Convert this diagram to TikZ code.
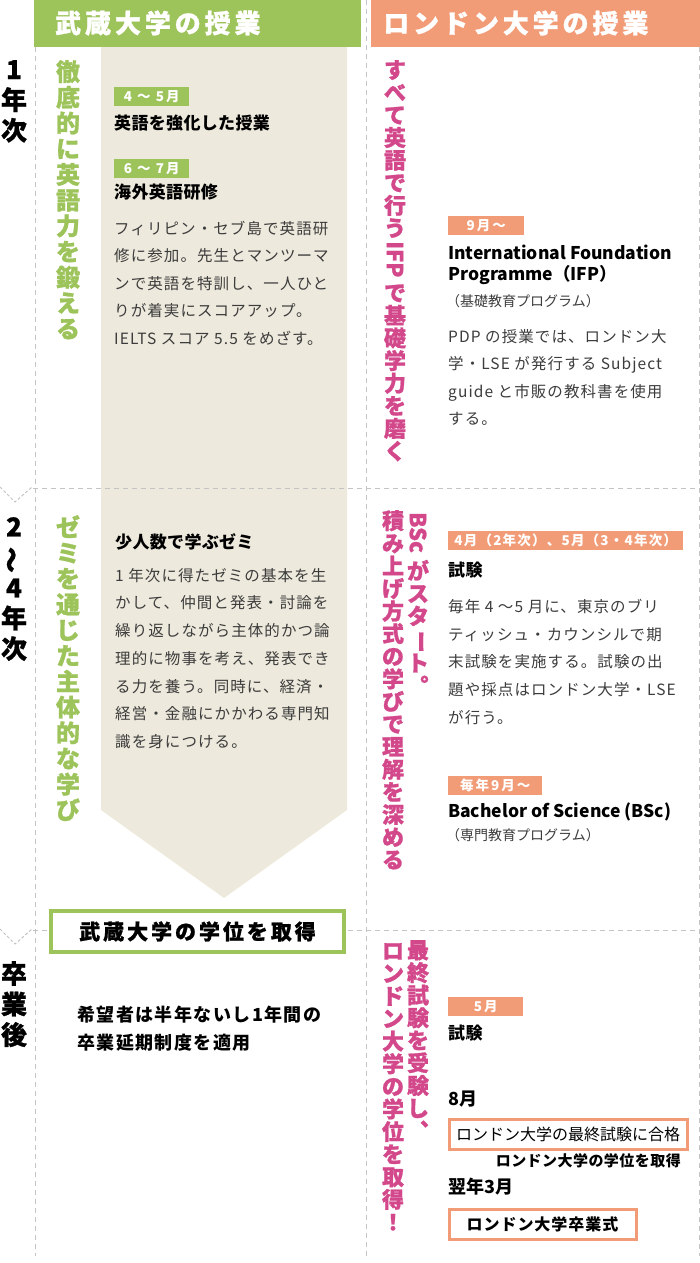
\documentclass[tikz,border=0pt]{standalone}
\usepackage{fontspec}
\setmainfont{Noto Sans CJK JP}
\usepackage{graphicx}
\definecolor{musashigreen}{HTML}{9DC35B}
\definecolor{londonsalmon}{HTML}{F29C77}
\definecolor{londonpink}{HTML}{D2488A}
\definecolor{zemibeige}{HTML}{EDE9DC}
\definecolor{dashgray}{HTML}{C4C4C4}
\definecolor{bodygray}{HTML}{3C3C3C}
\newcommand{\fsz}[2]{\fontsize{#1}{#2}\selectfont}

\begin{document}
\begin{tikzpicture}[x=1pt,y=-1pt]
    \tikzstyle{sectionhead}=[anchor=west,inner sep=0,text=white,font=\bfseries\fsz{26}{26}\addfontfeature{LetterSpace=15,FakeBold=1}]
    \tikzstyle{yearlabel}=[anchor=north,align=center,inner sep=0,font=\bfseries\fsz{26}{30.5}\addfontfeature{FakeBold=1}]
    \tikzstyle{vgreen}=[anchor=north,align=center,inner sep=0,text=musashigreen,font=\bfseries\fsz{24}{25.7}\addfontfeature{FakeBold=1}]
    \tikzstyle{vpink}=[anchor=north,align=center,inner sep=0,text=londonpink,font=\bfseries\fsz{22}{22.6}\addfontfeature{FakeBold=1}]
    \tikzstyle{monthtag}=[anchor=north west,inner sep=0,minimum height=19,text=white,font=\bfseries\fsz{13.5}{13.5}\addfontfeature{LetterSpace=15}]
    \tikzstyle{itemtitle}=[anchor=west,inner sep=0,font=\bfseries\fsz{17}{17}\addfontfeature{LetterSpace=2}]
    \tikzstyle{itemsub}=[anchor=west,inner sep=0,text=bodygray,font=\fsz{14}{14}]
    \tikzstyle{itembody}=[anchor=north west,inner sep=0,align=left,text=bodygray,font=\fsz{15.5}{27.5}\addfontfeature{LetterSpace=7}]
    \tikzstyle{gridline}=[draw=dashgray,line width=1pt,dash pattern=on 5pt off 4pt]
    \tikzstyle{resultbox}=[anchor=north west,draw=londonsalmon,line width=3pt,inner sep=0,minimum height=30]

    \useasboundingbox (0,0) rectangle (700,1263);

    \fill[zemibeige] (101,46.7) -- (347,46.7) -- (347,810) -- (224,898) -- (101,810) -- cycle;
    \fill[musashigreen] (34,0) rectangle (361,46.7);
    \fill[londonsalmon] (371,0) rectangle (700,46.7);
    \node[sectionhead] (musashihead) at (55,23) {武蔵大学の授業};
    \node[sectionhead] (londonhead) at (383,23) {ロンドン大学の授業};

    \draw[gridline] (35,47) -- (35,1256);
    \draw[gridline] (366,0) -- (366,1256);
    \draw[gridline] (699,47) -- (699,1256);
    \draw[gridline] (33,488) -- (700,488);
    \draw[gridline] (33,930) -- (700,930);
    \draw[gridline,dash pattern=on 3pt off 2pt] (0,487) -- (15,502) -- (32,487);
    \draw[gridline,dash pattern=on 3pt off 2pt] (0,929) -- (15,944) -- (32,929);

    \node[yearlabel] (year1) at (14,60) {1\\年\\次};
    \node[yearlabel] (year24) at (14,517) {2\\\rotatebox[origin=c]{90}{〜}\\4\\年\\次};
    \node[yearlabel] (afterdeg) at (14,961) {卒\\業\\後};

    \begin{scope}
    \node[vgreen] (drillenglish) at (68,60) {徹\\底\\的\\に\\英\\語\\力\\を\\鍛\\え\\る};
    \node[vgreen] (zemilearning) at (68,515) {ゼ\\ミ\\を\\通\\じ\\た\\主\\体\\的\\な\\学\\び};

    \node[monthtag,fill=musashigreen,minimum width=75] (aprmay) at (114,87) {4 〜 5月};
    \node[itemtitle] (englishclass) at (114,123) {英語を強化した授業};
    \node[monthtag,fill=musashigreen,minimum width=75] (junjul) at (114,159) {6 〜 7月};
    \node[itemtitle] (abroad) at (114,192) {海外英語研修};
    \node[itembody] (abroadtext) at (114,221) {フィリピン・セブ島で英語研\\修に参加。先生とマンツーマ\\ンで英語を特訓し、一人ひと\\りが着実にスコアアップ。\\IELTS スコア 5.5 をめざす。};

    \node[itemtitle] (zemi) at (115,542) {少人数で学ぶゼミ};
    \node[itembody,font=\fsz{15.5}{27.7}\addfontfeature{LetterSpace=7}] (zemitext) at (115,568) {1 年次に得たゼミの基本を生\\かして、仲間と発表・討論を\\繰り返しながら主体的かつ論\\理的に物事を考え、発表でき\\る力を養う。同時に、経済・\\経営・金融にかかわる専門知\\識を身につける。};

    \node[anchor=north west,draw=musashigreen,line width=4pt,fill=white,minimum width=293,minimum height=41,inner sep=0,font=\bfseries\fsz{21}{21}\addfontfeature{LetterSpace=14,FakeBold=1}] (musashidegree) at (49,909) {武蔵大学の学位を取得};
    \node[itembody,text=black,font=\bfseries\fsz{18}{28}\addfontfeature{LetterSpace=8}] (extension) at (77,1006) {希望者は半年ないし1年間の\\卒業延期制度を適用};
    \end{scope}

    \begin{scope}
    \node[vpink] (allenglish) at (395,60) {す\\べ\\て\\英\\語\\で\\行\\う\\\raisebox{0.8em}{\rotatebox{-90}{IFP}}\\[6pt]で\\基\\礎\\学\\力\\を\\磨\\く};
    \node[vpink] (bscstart) at (418,512) {\raisebox{0.8em}{\rotatebox{-90}{BSc}}\\[6pt]が\\ス\\タ\\\rotatebox[origin=c]{-90}{ー}\\ト\\︒};
    \node[vpink] (deepen) at (393,510) {積\\み\\上\\げ\\方\\式\\の\\学\\び\\で\\理\\解\\を\\深\\め\\る};
    \node[vpink] (finalexam) at (418,940) {最\\終\\試\\験\\を\\受\\験\\し\\︑};
    \node[vpink] (londondegree) at (393,943) {ロ\\ン\\ド\\ン\\大\\学\\の\\学\\位\\を\\取\\得\\！};

    \node[monthtag,fill=londonsalmon,minimum width=76] (sept) at (448,216) {9月〜};
    \node[itemtitle,font=\bfseries\fsz{17.5}{17.5}] (ifp) at (448,252) {International Foundation};
    \node[itemtitle,font=\bfseries\fsz{17.5}{17.5}] (ifpabbr) at (448,275) {Programme（IFP）};
    \node[itemsub] (ifpjp) at (446,301) {（基礎教育プログラム）};
    \node[itembody] (pdptext) at (448,329) {PDP の授業では、ロンドン大\\学・LSE が発行する Subject\\guide と市販の教科書を使用\\する。};

    \node[monthtag,fill=londonsalmon,minimum width=235,font=\bfseries\fsz{13.5}{13.5}\addfontfeature{LetterSpace=9}] (exammonths) at (448,531) {4月（2年次）、5月（3・4年次）};
    \node[itemtitle] (exam) at (448,570) {試験};
    \node[itembody,font=\fsz{15.5}{27.75}\addfontfeature{LetterSpace=7}] (examtext) at (448,599) {毎年 4 ～5 月に、東京のブリ\\ティッシュ・カウンシルで期\\末試験を実施する。試験の出\\題や採点はロンドン大学・LSE\\が行う。};
    \node[monthtag,fill=londonsalmon,minimum width=94] (everysept) at (448,776) {毎年9月〜};
    \node[itemtitle,font=\bfseries\fsz{17.5}{17.5}] (bsc) at (448,812) {Bachelor of Science (BSc)};
    \node[itemsub] (bscjp) at (446,835) {（専門教育プログラム）};

    \node[monthtag,fill=londonsalmon,minimum width=75] (may) at (448,997) {5月};
    \node[itemtitle] (finaltest) at (448,1033) {試験};
    \node[itemtitle,font=\bfseries\fsz{18}{18}] (aug) at (448,1099) {8月};
    \node[resultbox,minimum width=238,font=\fsz{16}{16}] (pass) at (447.5,1117.5) {ロンドン大学の最終試験に合格};
    \node[anchor=east,inner sep=0,font=\bfseries\fsz{15}{15}\addfontfeature{LetterSpace=3}] (londondeg) at (681,1161) {ロンドン大学の学位を取得};
    \node[itemtitle,font=\bfseries\fsz{18}{18}] (nextmar) at (448,1187) {翌年3月};
    \node[resultbox,minimum width=187,font=\bfseries\fsz{16}{16}\addfontfeature{LetterSpace=6}] (ceremony) at (447.5,1207.5) {ロンドン大学卒業式};
    \end{scope}

\end{tikzpicture}
\end{document}
